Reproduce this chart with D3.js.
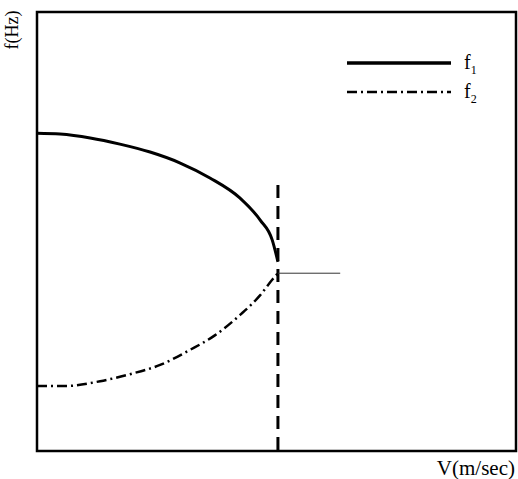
<!DOCTYPE html>
<html><head><meta charset="utf-8">
<script src="https://cdn.jsdelivr.net/npm/d3@7"></script>
<style>body{margin:0;background:#fff}svg{display:block}</style>
</head><body>
<svg id="c" width="518" height="479"></svg>
<script>
// normalised V (x) and f (y) values
const f1V = [0, 0.048, 0.111, 0.173, 0.236, 0.299, 0.361, 0.424, 0.466, 0.491, 0.503];
const f1F = [0.724, 0.722, 0.713, 0.699, 0.681, 0.656, 0.622, 0.576, 0.526, 0.481, 0.431];
const f2V = [0, 0.058, 0.132, 0.194, 0.257, 0.319, 0.372, 0.424, 0.466, 0.491, 0.503];
const f2F = [0.148, 0.148, 0.159, 0.175, 0.196, 0.230, 0.264, 0.310, 0.355, 0.390, 0.405];
const critV = 0.503, critTop = 0.606;
const branchV = [0.503, 0.633], branchF = 0.405;
const seriesNames = ["f", "f"], seriesSubs = ["1", "2"];

const svg = d3.select("#c");
const x = d3.scaleLinear().domain([0, 1]).range([37, 516]);
const y = d3.scaleLinear().domain([0, 1]).range([451, 12]);
const line = d3.line().x(d => x(d[0])).y(d => y(d[1])).curve(d3.curveMonotoneX);

// frame
svg.append("rect").attr("x", x(0)).attr("y", y(1)).attr("width", x(1) - x(0)).attr("height", y(0) - y(1))
  .attr("fill", "none").attr("stroke", "#000").attr("stroke-width", 2.5);

// critical vertical dashed line
svg.append("line").attr("x1", x(critV)).attr("x2", x(critV)).attr("y1", y(critTop)).attr("y2", y(0))
  .attr("stroke", "#000").attr("stroke-width", 3).attr("stroke-dasharray", "13,8");

// thin horizontal branch
svg.append("line").attr("x1", x(branchV[0])).attr("x2", x(branchV[1])).attr("y1", y(branchF)).attr("y2", y(branchF))
  .attr("stroke", "#333").attr("stroke-width", 1);

svg.append("path").datum(f1V.map((v, i) => [v, f1F[i]])).attr("d", line)
  .attr("fill", "none").attr("stroke", "#000").attr("stroke-width", 3);
svg.append("path").datum(f2V.map((v, i) => [v, f2F[i]])).attr("d", line)
  .attr("fill", "none").attr("stroke", "#000").attr("stroke-width", 2.5).attr("stroke-dasharray", "10,4,2,4");

// legend
const styles = [{w: 3.5, d: null}, {w: 2.5, d: "10,4,2,4"}];
const ly = [63, 92];
styles.forEach((s, i) => {
  svg.append("line").attr("x1", 347).attr("x2", 451).attr("y1", ly[i]).attr("y2", ly[i])
    .attr("stroke", "#000").attr("stroke-width", s.w).attr("stroke-dasharray", s.d);
  const t = svg.append("text").attr("x", 464).attr("y", ly[i] + 6)
    .attr("font-family", "Liberation Serif, serif").attr("font-size", 20);
  t.append("tspan").text(seriesNames[i]);
  t.append("tspan").attr("dy", 5).attr("font-size", 12).text(seriesSubs[i]);
});

// axis labels
svg.append("text").attr("transform", "translate(18,30) rotate(-90)").attr("text-anchor", "middle")
  .attr("font-family", "Liberation Serif, serif").attr("font-size", 18).text("f(Hz)");
svg.append("text").attr("x", 515).attr("y", 475).attr("text-anchor", "end")
  .attr("font-family", "Liberation Serif, serif").attr("font-size", 21).text("V(m/sec)");
</script>
</body></html>
